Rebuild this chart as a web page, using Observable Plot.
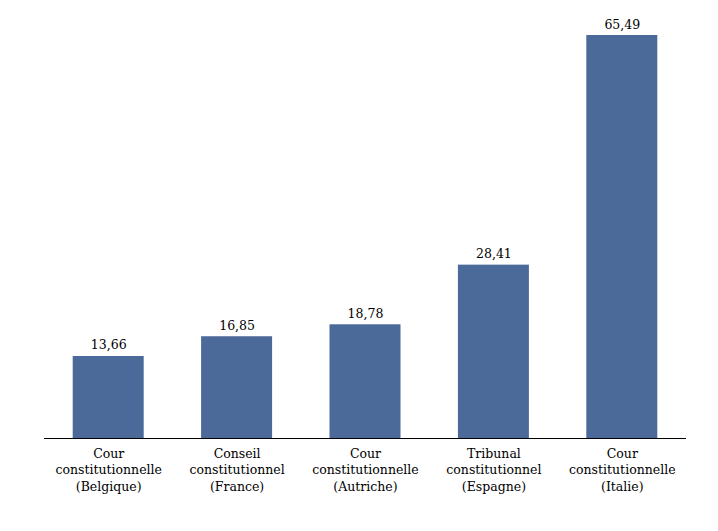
<!DOCTYPE html>
<html>
<head>
<meta charset="utf-8">
<script src="https://cdn.jsdelivr.net/npm/d3@7"></script>
<script src="https://cdn.jsdelivr.net/npm/@observablehq/plot@0.6"></script>
<style>
  body { margin: 0; background: #fff; }
</style>
</head>
<body>
<div id="chart"></div>
<script>
const categories = [
  "Cour\nconstitutionnelle\n(Belgique)",
  "Conseil\nconstitutionnel\n(France)",
  "Cour\nconstitutionnelle\n(Autriche)",
  "Tribunal\nconstitutionnel\n(Espagne)",
  "Cour\nconstitutionnelle\n(Italie)"
];
const values = [13.66, 16.85, 18.78, 28.41, 65.49];

const data = categories.map((c, i) => ({category: c, value: values[i]}));
const fmt = v => v.toFixed(2).replace(".", ",");

const chart = Plot.plot({
  width: 718,
  height: 531,
  marginLeft: 44,
  marginRight: 32,
  marginTop: 35,
  marginBottom: 90.4,
  style: {fontFamily: "'DejaVu Serif', serif", fontSize: "12.5px", color: "#000", background: "#fff"},
  x: {domain: categories, paddingInner: 0.447, paddingOuter: 0.2235, round: false, label: null},
  y: {domain: [0, 65.49], axis: null},
  marks: [
    Plot.barY(data, {x: "category", y: "value", fill: "#4b6a99", insetBottom: 2.6}),
    Plot.ruleY([0], {stroke: "#000", strokeWidth: 1.2, dy: -2.6}),
    Plot.text(data, {x: "category", y: "value", text: d => fmt(d.value), dy: -7, lineAnchor: "bottom", fill: "#000", fontSize: 12.5}),
    Plot.axisX({tickSize: 0, tickPadding: 5.5, lineHeight: 1.3, fontSize: 12.5, fill: "#000", label: null})
  ]
});
document.getElementById("chart").appendChild(chart);
</script>
</body>
</html>
